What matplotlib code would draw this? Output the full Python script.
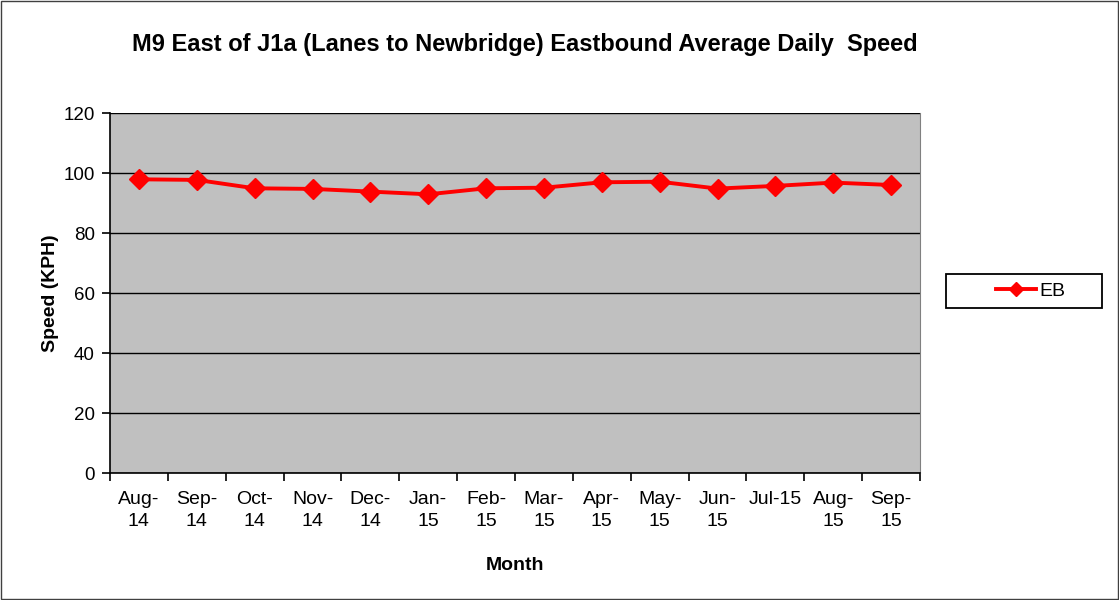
import matplotlib.pyplot as plt
from matplotlib.patches import Rectangle

plt.rcParams['font.family'] = ['Liberation Sans', 'DejaVu Sans']

meses = ["Aug-\n14", "Sep-\n14", "Oct-\n14", "Nov-\n14", "Dec-\n14", "Jan-\n15", "Feb-\n15",
         "Mar-\n15", "Apr-\n15", "May-\n15", "Jun-\n15", "Jul-15", "Aug-\n15", "Sep-\n15"]
velocidad_eb = [97.9, 97.7, 94.9, 94.7, 93.8, 92.9, 94.9, 95.1, 96.9, 97.1, 94.8, 95.7, 96.8, 96.0]
y_ticks = [0, 20, 40, 60, 80, 100, 120]

fig = plt.figure(figsize=(11.19, 6), dpi=100)
ax = fig.add_axes([110 / 1119, 1 - 473 / 600, 810 / 1119, 360 / 600])
ax.set_facecolor('#c0c0c0')

x = list(range(len(meses)))
ax.plot(x, velocidad_eb, color='#ff0000', lw=2.8, marker='D', ms=10, label='EB', zorder=3)

ax.set_xlim(-0.5, len(meses) - 0.5)
ax.set_ylim(0, 120)
ax.set_yticks(y_ticks)
ax.yaxis.grid(True, color='black', lw=1)
ax.set_axisbelow(True)
ax.set_xticks(x)
ax.set_xticklabels(meses, fontsize=14, linespacing=1.35)
ax.set_xticks([i - 0.5 for i in range(len(meses) + 1)], minor=True)
ax.tick_params(axis='x', which='major', length=0, pad=13)
ax.tick_params(axis='x', which='minor', length=6, direction='out', width=1.2)
ax.tick_params(axis='y', labelsize=13.5, length=6, width=1.2, direction='out', pad=5)

ax.spines['right'].set_color('#808080')
ax.spines['top'].set_visible(False)
ax.spines['left'].set_linewidth(1.2)
ax.spines['bottom'].set_linewidth(1.2)

ax.set_ylabel('Speed (KPH)', fontsize=14, fontweight='bold', labelpad=3)
ax.set_xlabel('Month', fontsize=14, fontweight='bold', labelpad=20)
fig.text(525 / 1119, 1 - 45 / 600, 'M9 East of J1a (Lanes to Newbridge) Eastbound Average Daily  Speed',
         ha='center', va='center', fontsize=17, fontweight='bold')

leg = fig.legend(loc='center left', bbox_to_anchor=(978 / 1119, 1 - 291 / 600), fontsize=14,
                 frameon=False, markerscale=0.75, handlelength=2.1, handletextpad=0.15)

fig.patches.append(Rectangle((946 / 1119, 1 - 308 / 600), 156 / 1119, 34 / 600,
                             transform=fig.transFigure, fill=False, edgecolor='black', lw=1.3))
fig.patches.append(Rectangle((0.001, 0.001), 0.998, 0.997, transform=fig.transFigure,
                             fill=False, edgecolor='#404040', lw=1))

fig.savefig('out.png', dpi=100)
